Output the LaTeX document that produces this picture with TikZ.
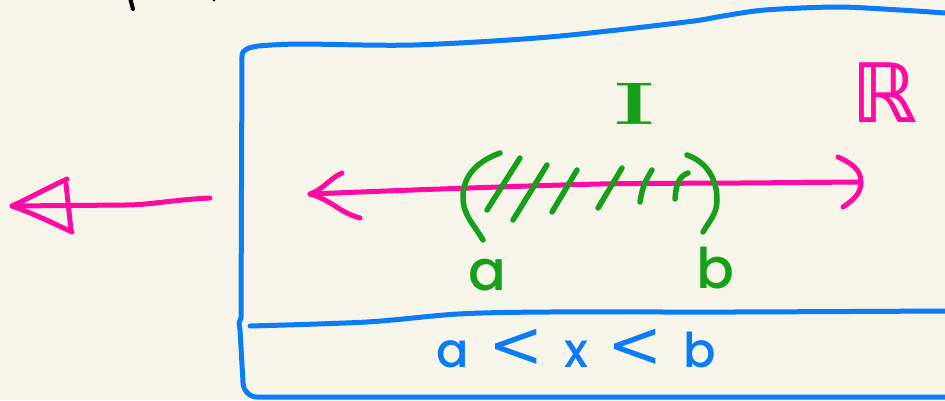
\documentclass[tikz,border=0pt]{standalone}
\usepackage{fontspec}
\newfontfamily\handfont{Poppins}[BoldFont={Poppins Medium}]
\newfontfamily\symfont{DejaVu Sans}
\definecolor{paper}{HTML}{F7F5EA}
\definecolor{inkblue}{HTML}{0A7CF6}
\definecolor{inkpink}{HTML}{FF0AA2}
\definecolor{inkgreen}{HTML}{16A01A}
\newcommand{\bigless}{{\symfont\mdseries\fontsize{66}{66}\selectfont<}}
\begin{document}
\begin{tikzpicture}[x=1pt,y=-1pt,line cap=round,line join=round,
  bluepen/.style={draw=inkblue,line width=5pt},
  pinkpen/.style={draw=inkpink,line width=5pt},
  greenpen/.style={draw=inkgreen,line width=5.5pt},
  greenlabel/.style={text=inkgreen,inner sep=0pt,anchor=base,font=\handfont\bfseries\fontsize{56}{60}\selectfont},
  bluelabel/.style={text=inkblue,inner sep=0pt,anchor=base,font=\handfont\bfseries\fontsize{48}{52}\selectfont}]
\fill[paper] (0,0) rectangle (945,400);
\useasboundingbox (0,0) rectangle (945,400);

% stray pen marks at the top edge
\draw[line width=4pt] (130,-2) -- (133,9);
\fill (214,0) circle (1.5pt);

% the set box and its lower compartment
\draw[bluepen] plot[smooth] coordinates {(945,13) (900,10) (837,7) (765,10) (723,16) (686,22) (549,37) (413,45) (300,44) (258,46)}
  to[out=190,in=90] (242,56) -- (241,318) -- (239,323) -- (240,330) -- (243,382)
  to[out=-90,in=180] (257,397) -- (945,397);
\draw[bluepen] plot[smooth] coordinates {(250,326) (367,322) (458,314) (549,312) (732,312) (945,311)};
\node[bluelabel] (ineq) at (576,367) {a\hspace{20pt}\bigless\hspace{20pt}x\hspace{20pt}\bigless\hspace{20pt}b};

% real line
\coordinate (lineL) at (310,194);
\coordinate (lineR) at (861,182);
\draw[pinkpen] plot[smooth] coordinates {(lineL) (440,189) (600,184) (740,183) (lineR)};
\draw[pinkpen] (342,173) to[out=205,in=20] (lineL) to[out=-15,in=165] (360,218);
\draw[pinkpen] (838,157) to[out=-25,in=90] (lineR) to[out=-90,in=35] (843,207);
\node[text=inkpink,inner sep=0pt,font=\symfont\bfseries\fontsize{82}{90}\selectfont] (reals) at (884,93) {ℝ};

% interval I = (a,b)
\draw[greenpen] (500,153) to[out=200,in=90] (463,197) to[out=-90,in=120] (483,240);
\draw[greenpen] (687,155) to[out=-20,in=90] (717,200) to[out=-90,in=60] (703,232);
\draw[greenpen] (520,158) -- (487,210);
\draw[greenpen] (547,165) -- (513,220);
\draw[greenpen] (577,170) -- (552,212);
\draw[greenpen] (622,168) -- (598,208);
\draw[greenpen] (652,170) to[bend right=12] (640,202);
\draw[greenpen] (688,173) to[out=200,in=85] (675,199);
\node[text=inkgreen,inner sep=0pt,xscale=1.6,font=\bfseries\fontsize{60}{66}\selectfont] (intI) at (635,104) {I};
\node[greenlabel] (endA) at (487,290) {a};
\node[greenlabel] (endB) at (715,288) {b};

% arrow pointing out to the left
\coordinate (outS) at (210,198);
\coordinate (outT) at (12,206);
\draw[pinkpen] (outS) .. controls (170,200) and (150,205) .. (125,205) -- (outT);
\draw[pinkpen] (67,179) to[out=205,in=25] (outT) to[out=-20,in=155] (72,232);
\draw[pinkpen] (66,184) -- (71,230);
\end{tikzpicture}
\end{document}
